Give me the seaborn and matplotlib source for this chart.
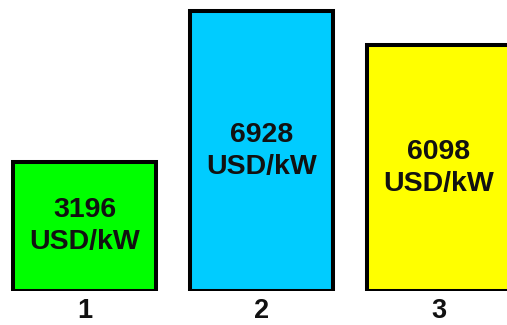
import matplotlib
matplotlib.use("Agg")
import matplotlib.pyplot as plt
import seaborn as sns
import pandas as pd

# values
categories = ['1', '2', '3']
costs = [3196, 6928, 6098]
unit = 'USD/kW'
colors = ['#00FF00', '#00CCFF', '#FFFF00']

sns.set_theme(style='white')
plt.rcParams['font.family'] = ['Liberation Sans', 'DejaVu Sans']

df = pd.DataFrame({'Option': categories, 'Cost': costs})

fig = plt.figure(figsize=(5.07, 3.25), dpi=100)
ax = fig.add_axes([0, 34 / 325, 1, 291 / 325])

sns.barplot(data=df, x='Option', y='Cost', hue='Option', palette=colors,
            width=0.81, edgecolor='black', linewidth=2.9, saturation=1,
            legend=False, ax=ax)

for i, v in enumerate(costs):
    ax.text(i, v / 2, f'{v}\n{unit}', ha='center', va='center',
            fontsize=20.5, fontweight='bold', color='#111111', linespacing=1.3)

ax.set_xlim(-0.477, 2.387)
ax.set_ylim(0, 7200)
ax.set_xlabel('')
ax.set_ylabel('')
ax.set_yticks([])
ax.tick_params(axis='x', length=0, pad=5, labelsize=19.5, labelcolor='#111111')
for lab in ax.get_xticklabels():
    lab.set_fontweight('bold')
for s in ax.spines.values():
    s.set_visible(False)
ax.patch.set_alpha(0)

fig.savefig('out.png', dpi=100)
